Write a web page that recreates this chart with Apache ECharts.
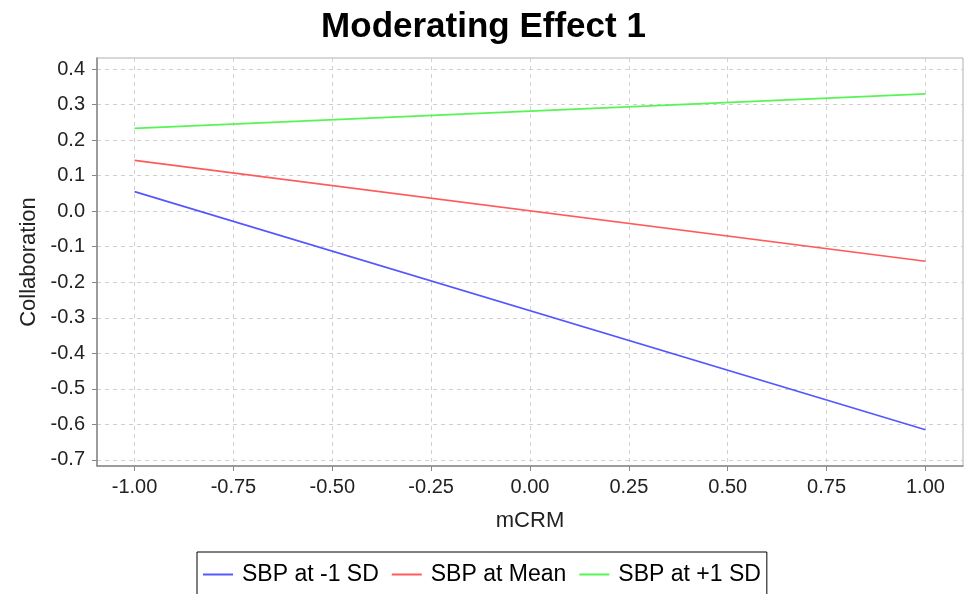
<!DOCTYPE html>
<html>
<head>
<meta charset="utf-8">
<script src="https://cdn.jsdelivr.net/npm/echarts@6/dist/echarts.min.js"></script>
<style>
html,body{margin:0;padding:0;background:#fff;}
#c{width:967px;height:594px;}
</style>
</head>
<body>
<div id="c"></div>
<script>
var titleText = 'Moderating Effect 1';
var xName = 'mCRM';
var yName = 'Collaboration';
var xValues = [-1, 1];
var seriesNames = ['SBP at -1 SD', 'SBP at Mean', 'SBP at +1 SD'];
var lowSD = [0.055, -0.615];
var meanSD = [0.143, -0.141];
var highSD = [0.233, 0.330];
var xTicks = [-1, -0.75, -0.5, -0.25, 0, 0.25, 0.5, 0.75, 1];
var yTicks = [-0.7, -0.6, -0.5, -0.4, -0.3, -0.2, -0.1, 0, 0.1, 0.2, 0.3, 0.4];
var colors = ['#5656ff', '#ff5a5a', '#56f556'];

function pairs(vals){ return xValues.map(function(x,i){ return [x, vals[i]]; }); }

var chart = echarts.init(document.getElementById('c'), null, {renderer:'canvas'});
var font = 'Liberation Sans, Arial, sans-serif';
var gridLine = {show:true, lineStyle:{color:'#d0d0d0', type:[4,4], width:1}};
chart.setOption({
  animation:false,
  backgroundColor:'#fff',
  textStyle:{fontFamily:font},
  title:{text:titleText, left:'center', top:5,
    textStyle:{fontFamily:font, fontSize:35, fontWeight:'bold', color:'#000'}},
  legend:{
    top:552, left:197,
    padding:[11,6,30,6],
    borderColor:'#000', borderWidth:1,
    icon:'rect', itemWidth:30, itemHeight:2, itemGap:13,
    textStyle:{fontFamily:font, fontSize:23, color:'#000', padding:[0,0,0,4]},
    data:seriesNames
  },
  grid:{left:97, right:4, top:58, bottom:128, show:true, borderColor:'#b0b0b0', borderWidth:1},
  xAxis:{
    type:'value', min:-1.095, max:1.095,
    name:xName, nameLocation:'middle', nameGap:44,
    nameTextStyle:{fontFamily:font, fontSize:22, color:'#222'},
    axisLine:{show:true, onZero:false, lineStyle:{color:'#888', width:1.5}},
    axisTick:{show:true, length:5, lineStyle:{color:'#888'}, customValues:xTicks},
    axisLabel:{fontFamily:font, fontSize:20, color:'#222', margin:11, customValues:xTicks,
      formatter:function(v){return v.toFixed(2);}},
    splitLine:gridLine
  },
  yAxis:{
    type:'value', min:-0.717, max:0.431,
    name:yName, nameLocation:'middle', nameGap:56, nameRotate:90,
    nameTextStyle:{fontFamily:font, fontSize:22, color:'#222'},
    axisLine:{show:true, onZero:false, lineStyle:{color:'#888', width:1.5}},
    axisTick:{show:true, length:5, lineStyle:{color:'#888'}, customValues:yTicks},
    axisLabel:{fontFamily:font, fontSize:20, color:'#222', margin:12, customValues:yTicks,
      formatter:function(v){return v.toFixed(1);}},
    splitLine:gridLine
  },
  series:[
    {name:seriesNames[0], type:'line', data:pairs(lowSD), symbol:'none', lineStyle:{color:colors[0], width:1.6}, itemStyle:{color:colors[0]}},
    {name:seriesNames[1], type:'line', data:pairs(meanSD), symbol:'none', lineStyle:{color:colors[1], width:1.6}, itemStyle:{color:colors[1]}},
    {name:seriesNames[2], type:'line', data:pairs(highSD), symbol:'none', lineStyle:{color:colors[2], width:1.6}, itemStyle:{color:colors[2]}}
  ]
});
</script>
</body>
</html>
